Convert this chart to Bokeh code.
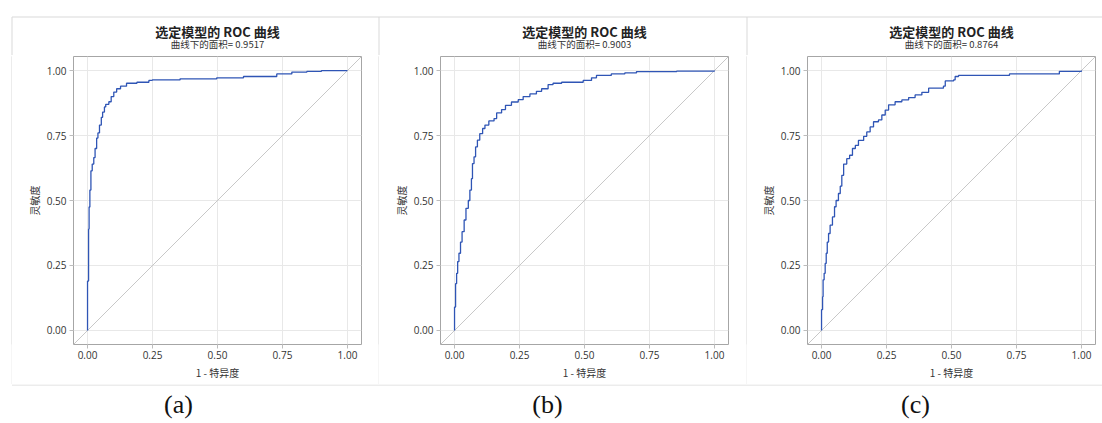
from bokeh.plotting import figure
from bokeh.layouts import row, column
from bokeh.models import Range1d, FixedTicker, PrintfTickFormatter, Spacer
from bokeh.core.properties import value
from bokeh.embed import file_html
from bokeh.resources import INLINE

# ---------------- data ----------------
fpr_a = [0, 0, 0.004, 0.006, 0.009, 0.013, 0.018, 0.024, 0.029, 0.035,
         0.040, 0.046, 0.053, 0.058, 0.065, 0.070, 0.082, 0.091, 0.101, 0.112,
         0.127, 0.150, 0.190, 0.236, 0.249, 0.356, 0.497, 0.600, 0.728, 0.786,
         0.844, 0.900, 1.0]
tpr_a = [0, 0.19, 0.39, 0.475, 0.54, 0.614, 0.64, 0.665, 0.70, 0.74,
         0.76, 0.79, 0.82, 0.84, 0.86, 0.87, 0.88, 0.90, 0.917, 0.93,
         0.94, 0.951, 0.955, 0.962, 0.964, 0.968, 0.972, 0.977, 0.987, 0.994,
         0.997, 1.0, 1.0]

fpr_b = [0, 0, 0.004, 0.008, 0.012, 0.017, 0.023, 0.029, 0.037, 0.044,
         0.053, 0.059, 0.065, 0.069, 0.075, 0.081, 0.088, 0.097, 0.108, 0.117,
         0.132, 0.152, 0.162, 0.181, 0.196, 0.219, 0.245, 0.264, 0.29, 0.315,
         0.335, 0.36, 0.379, 0.412, 0.495, 0.527, 0.546, 0.603, 0.655, 0.70,
         0.855, 1.0]
tpr_b = [0, 0.09, 0.18, 0.22, 0.265, 0.297, 0.34, 0.38, 0.425, 0.47,
         0.50, 0.54, 0.584, 0.642, 0.668, 0.706, 0.732, 0.757, 0.777, 0.79,
         0.806, 0.815, 0.837, 0.85, 0.866, 0.879, 0.888, 0.90, 0.91, 0.92,
         0.93, 0.946, 0.951, 0.955, 0.962, 0.972, 0.981, 0.987, 0.991, 0.996,
         0.998, 1.0]

fpr_c = [0, 0, 0.004, 0.006, 0.010, 0.014, 0.018, 0.022, 0.027, 0.033,
         0.042, 0.050, 0.056, 0.065, 0.072, 0.078, 0.085, 0.097, 0.108, 0.119,
         0.130, 0.142, 0.162, 0.174, 0.187, 0.200, 0.219, 0.232, 0.245, 0.258,
         0.283, 0.309, 0.335, 0.360, 0.386, 0.412, 0.469, 0.476, 0.508, 0.514,
         0.527, 0.723, 0.915, 1.0]
tpr_c = [0, 0.08, 0.13, 0.195, 0.22, 0.258, 0.297, 0.34, 0.373, 0.405,
         0.437, 0.476, 0.50, 0.527, 0.555, 0.597, 0.64, 0.661, 0.674, 0.70,
         0.712, 0.731, 0.747, 0.764, 0.783, 0.803, 0.81, 0.829, 0.848, 0.868,
         0.88, 0.887, 0.896, 0.906, 0.916, 0.932, 0.94, 0.96, 0.964, 0.977,
         0.981, 0.987, 0.997, 1.0]

auc_values = ["0.9517", "0.9003", "0.8764"]
captions = ["(a)", "(b)", "(c)"]
title_text = "选定模型的 ROC 曲线"
subtitle_prefix = "曲线下的面积= "
x_label = "1 - 特异度"
y_label = "灵敏度"
tick_values = [0, 0.25, 0.5, 0.75, 1.0]

# ---------------- layout (page pixels) ----------------
PAGE_W, PAGE_H = 1102, 423
BOX_TOP, BOX_BOTTOM = 16, 384
line_x = [11, 378, 746]            # vertical box lines
panel_w = [366, 367, 355]          # widths between the lines
frame_left = [73, 440, 807]
FRAME = 288
ROW_TOP = 55                       # y where the panel row starts
FRAME_TOP = 56
cap_x = [178, 547, 915]
CAP_Y = 404
TITLE_Y, SUB_Y = 30.7, 43.3
R0, R1 = -0.054, 1.054
BOX_COLOR = "#D9D9D9"
CJK = "Noto Sans CJK SC"


def blank(width, height, y_top, y_bottom, fill="white"):
    s = figure(width=width, height=height, x_range=Range1d(0, width),
               y_range=Range1d(y_bottom, y_top), x_axis_type=None,
               y_axis_type=None, min_border=0, output_backend="svg",
               toolbar_location=None, outline_line_color=None,
               background_fill_color=fill, border_fill_color=fill)
    return s


# ---- top strip: box top, titles, subtitles ----
top = blank(PAGE_W, ROW_TOP, 0, ROW_TOP)
top.segment(x0=[line_x[0] + 0.5], y0=[BOX_TOP + 0.5], x1=[PAGE_W], y1=[BOX_TOP + 0.5],
            line_color=BOX_COLOR, line_width=1)
top.segment(x0=[x + 0.5 for x in line_x], y0=[BOX_TOP + 0.5] * 3,
            x1=[x + 0.5 for x in line_x], y1=[ROW_TOP] * 3,
            line_color=BOX_COLOR, line_width=1)
centers = [fl + FRAME / 2 for fl in frame_left]
top.text(x=centers, y=[TITLE_Y] * 3, text=[title_text] * 3,
         text_align="center", text_baseline="middle", text_font=value(CJK),
         text_font_size="13px", text_font_style="bold", text_color="#222222")
top.text(x=centers, y=[SUB_Y] * 3, text=[subtitle_prefix + a for a in auc_values],
         text_align="center", text_baseline="middle", text_font=value(CJK),
         text_font_size="9.5px", text_color="#333333")

# ---- bottom strip: box bottom and captions ----
bottom = blank(PAGE_W, PAGE_H - BOX_BOTTOM, BOX_BOTTOM, PAGE_H)
bottom.segment(x0=[line_x[0] + 0.5], y0=[BOX_BOTTOM + 0.5], x1=[PAGE_W],
               y1=[BOX_BOTTOM + 0.5], line_color=BOX_COLOR, line_width=1)
bottom.text(x=cap_x, y=[CAP_Y] * 3, text=captions, text_align="center",
            text_baseline="middle", text_font=value("Liberation Serif"),
            text_font_size="26px", text_color="#111111")

# ---- middle row: panels ----
ROW_H = BOX_BOTTOM - ROW_TOP
curves = [(fpr_a, tpr_a), (fpr_b, tpr_b), (fpr_c, tpr_c)]
row_items = [Spacer(width=line_x[0], height=ROW_H)]
for i, (fpr, tpr) in enumerate(curves):
    row_items.append(blank(1, ROW_H, 0, 1, fill=BOX_COLOR))
    left_b = frame_left[i] - (line_x[i] + 1)
    top_b = FRAME_TOP - ROW_TOP
    p = figure(width=panel_w[i], height=ROW_H,
               x_range=Range1d(R0, R1), y_range=Range1d(R0, R1),
               output_backend="svg", toolbar_location=None,
               min_border_left=left_b,
               min_border_right=panel_w[i] - left_b - FRAME,
               min_border_top=top_b,
               min_border_bottom=ROW_H - top_b - FRAME,
               background_fill_color="white", border_fill_color="white",
               outline_line_color="#A6A6A6")
    for ax in (p.xaxis[0], p.yaxis[0]):
        ax.ticker = FixedTicker(ticks=tick_values)
        ax.formatter = PrintfTickFormatter(format="%.2f")
        ax.axis_line_color = None
        ax.major_tick_line_color = "#BDBDBD"
        ax.major_tick_out = 4
        ax.major_tick_in = 0
        ax.minor_tick_line_color = None
        ax.major_label_text_font = "Open Sans"
        ax.major_label_text_font_size = "10px"
        ax.major_label_text_color = "#333333"
        ax.axis_label_text_font = CJK
        ax.axis_label_text_font_size = "10px"
        ax.axis_label_text_font_style = "normal"
        ax.axis_label_text_color = "#333333"
    p.xaxis.axis_label = x_label
    p.yaxis.axis_label = y_label
    p.xaxis.major_label_standoff = 2
    p.yaxis.major_label_standoff = 3
    p.xaxis.axis_label_standoff = 3
    p.yaxis.axis_label_standoff = 2
    p.grid.grid_line_color = "#E8E8E8"

    diag = [p.x_range.start, p.x_range.end]
    p.line(diag, diag, line_color="#C8C8C8", line_width=1)
    p.step(fpr, tpr, mode="after", line_color="#2F55B5", line_width=1.3)
    row_items.append(p)

layout = column(top, row(*row_items), bottom)
open("out.html", "w").write(file_html(layout, INLINE))
